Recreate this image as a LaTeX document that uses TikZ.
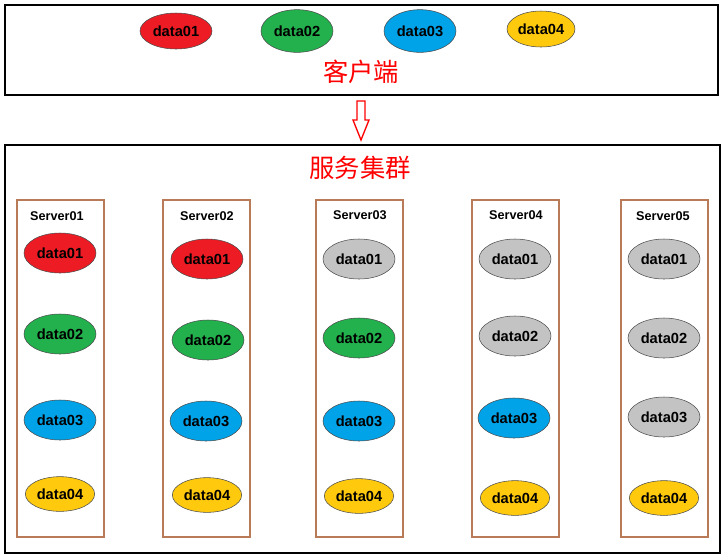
\documentclass[tikz,border=0pt]{standalone}
\usepackage{fontspec}
\setmainfont{Liberation Sans}
\newfontfamily\cjk{Noto Sans CJK SC}
\usetikzlibrary{shapes.geometric}
\definecolor{datared}{HTML}{ED1C24}
\definecolor{datagreen}{HTML}{22B14C}
\definecolor{datablue}{HTML}{00A2E8}
\definecolor{datayellow}{HTML}{FFC90E}
\definecolor{datagray}{HTML}{C3C3C3}
\definecolor{serverbrown}{HTML}{B97A57}

\begin{document}
\begin{tikzpicture}[
  x=0.75pt, y=-0.75pt,
  every node/.style={inner sep=0pt},
  area box/.style={draw=black, line width=1.5pt},
  server box/.style={draw=serverbrown, line width=1.4pt},
  data/.style={
    ellipse,
    draw=black!70,
    line width=0.4pt,
    minimum width=54pt,
    minimum height=30pt,
    font=\fontsize{11}{13}\selectfont\bfseries
  },
  small data/.style={data, minimum width=52pt, minimum height=26pt},
  server label/.style={font=\fontsize{9.5}{11}\selectfont\bfseries},
  cn label/.style={text=red, font=\cjk\fontsize{19}{22}\selectfont},
  flow arrow/.style={draw=red, line width=1pt, line join=miter}
]
\useasboundingbox (0,0) rectangle (725,558);

% client
\draw[area box] (5,5) rectangle (718,95);
\node(c1)[data, fill=datared, minimum height=27pt] at (176,31) {data01};
\node(c2)[data, fill=datagreen, minimum height=32pt] at (297,31) {data02};
\node(c3)[data, fill=datablue, minimum height=32pt] at (420,31) {data03};
\node(c4)[data, fill=datayellow, minimum width=51pt, minimum height=27pt] at (541,29) {data04};
\node(client)[cn label] at (361,72) {客户端};

% hollow arrow down
\coordinate(flow) at (361,101);
\draw[flow arrow] (flow) ++(-4,0) -- ++(8,0) -- ++(0,19) -- ++(4,0)
  -- ++(-8,20) -- ++(-8,-20) -- ++(4,0) -- cycle;

% cluster
\draw[area box] (5,145) rectangle (720,553);
\node(cluster)[cn label] at (360,168) {服务集群};

\draw[server box] (17,200) rectangle (104,537);
\draw[server box] (163,200) rectangle (250,537);
\draw[server box] (316,200) rectangle (403,537);
\draw[server box] (472,200) rectangle (559,537);
\draw[server box] (621,200) rectangle (708,537);

\node(s1)[server label] at (57,216) {Server01};
\node(s2)[server label] at (207,216) {Server02};
\node(s3)[server label] at (360,215) {Server03};
\node(s4)[server label] at (516,215) {Server04};
\node(s5)[server label] at (663,216) {Server05};

\node(s1d1)[data, fill=datared] at (60,253) {data01};
\node(s1d2)[data, fill=datagreen] at (60,334) {data02};
\node(s1d3)[data, fill=datablue] at (60,420) {data03};
\node(s1d4)[small data, fill=datayellow] at (60,494) {data04};

\node(s2d1)[data, fill=datared] at (207,259) {data01};
\node(s2d2)[data, fill=datagreen] at (208,340) {data02};
\node(s2d3)[data, fill=datablue] at (206,421) {data03};
\node(s2d4)[small data, fill=datayellow] at (207,495) {data04};

\node(s3d1)[data, fill=datagray] at (359,259) {data01};
\node(s3d2)[data, fill=datagreen] at (359,338) {data02};
\node(s3d3)[data, fill=datablue] at (359,421) {data03};
\node(s3d4)[small data, fill=datayellow] at (359,496) {data04};

\node(s4d1)[data, fill=datagray] at (515,259) {data01};
\node(s4d2)[data, fill=datagray] at (515,336) {data02};
\node(s4d3)[data, fill=datablue] at (514,418) {data03};
\node(s4d4)[small data, fill=datayellow] at (515,498) {data04};

\node(s5d1)[data, fill=datagray] at (664,259) {data01};
\node(s5d2)[data, fill=datagray] at (664,338) {data02};
\node(s5d3)[data, fill=datagray] at (664,417) {data03};
\node(s5d4)[small data, fill=datayellow] at (664,498) {data04};

\end{tikzpicture}
\end{document}
